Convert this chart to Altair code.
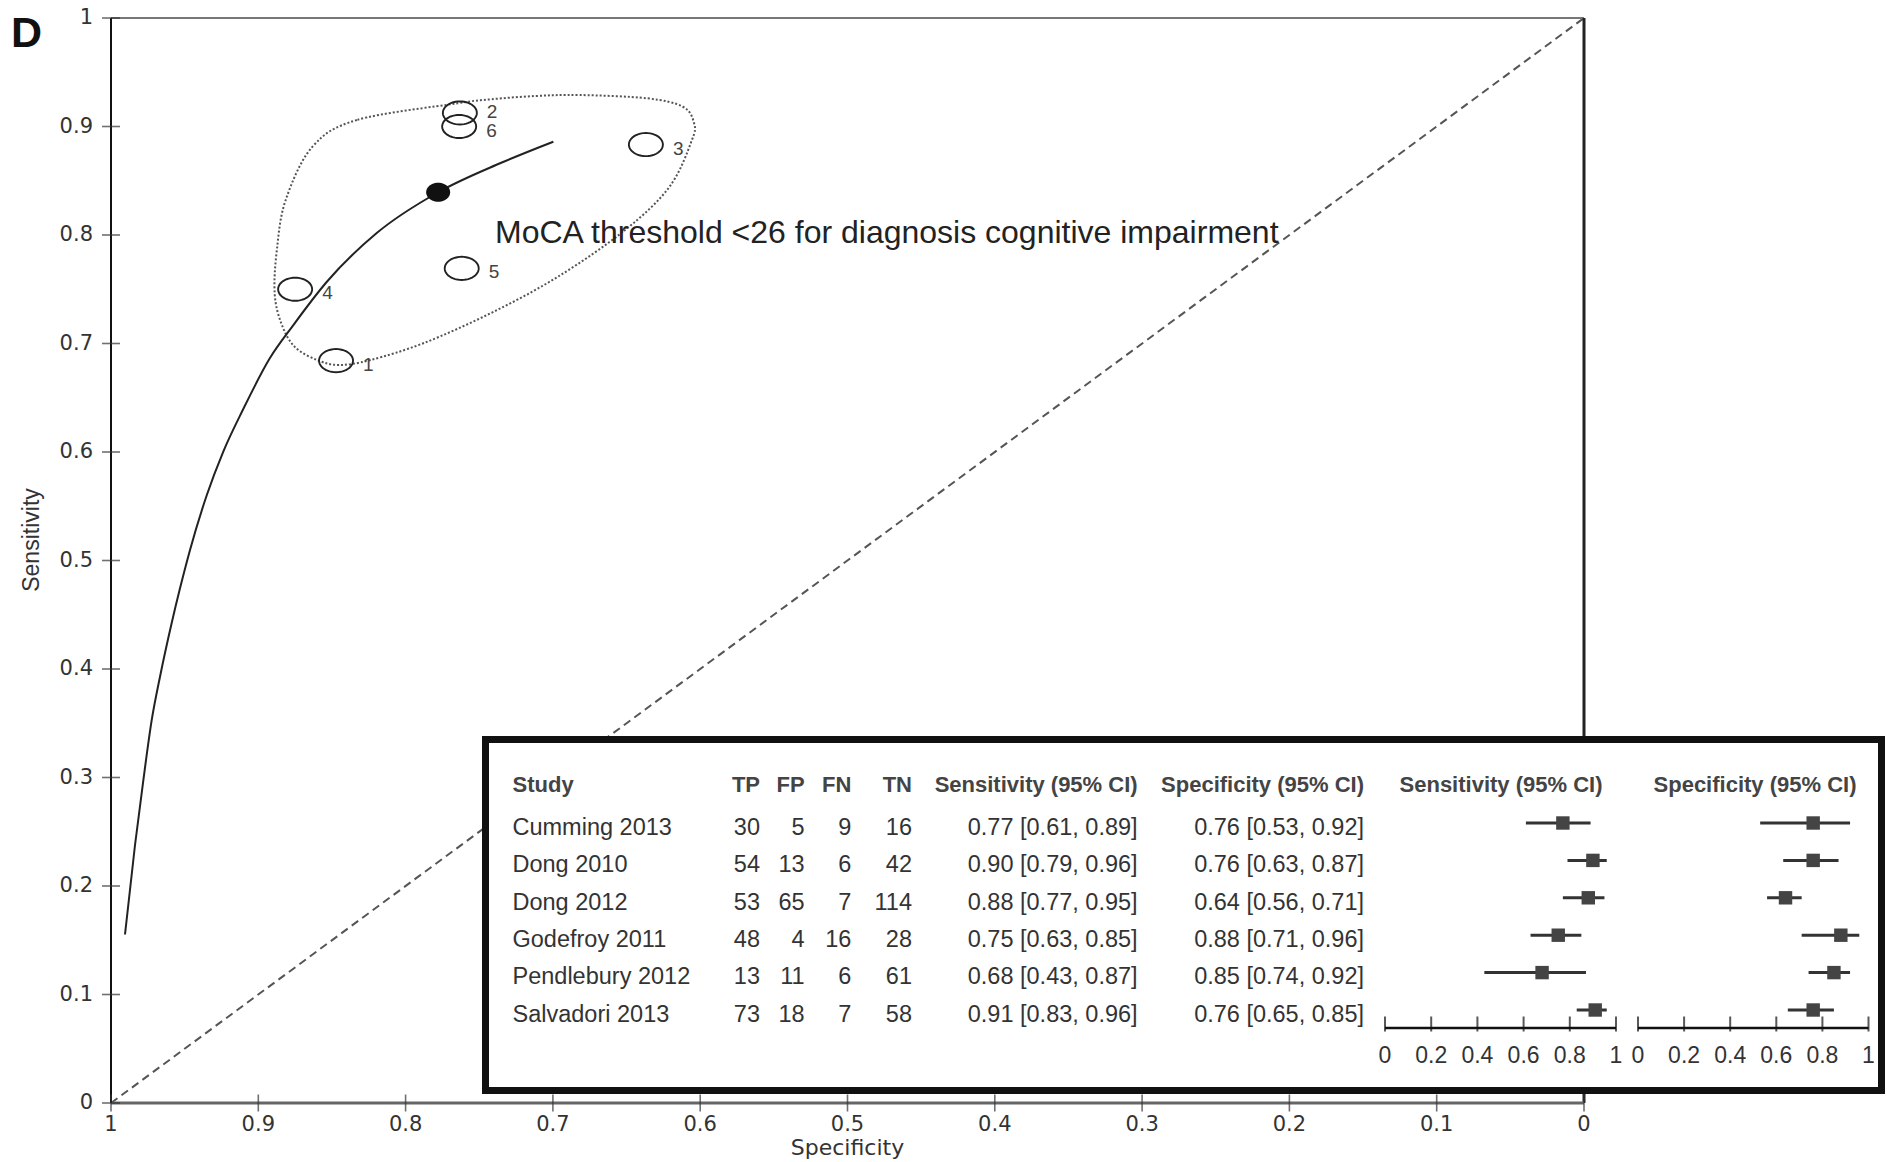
import math
import altair as alt
import pandas as pd

# ---------------- data ----------------
studies = ["Cumming 2013", "Dong 2010", "Dong 2012", "Godefroy 2011", "Pendlebury 2012", "Salvadori 2013"]
tp = [30, 54, 53, 48, 13, 73]
fp = [5, 13, 65, 4, 11, 18]
fn = [9, 6, 7, 16, 6, 7]
tn = [16, 42, 114, 28, 61, 58]
sens_est = [0.77, 0.90, 0.88, 0.75, 0.68, 0.91]
sens_lo = [0.61, 0.79, 0.77, 0.63, 0.43, 0.83]
sens_hi = [0.89, 0.96, 0.95, 0.85, 0.87, 0.96]
spec_est = [0.76, 0.76, 0.64, 0.88, 0.85, 0.76]
spec_lo = [0.53, 0.63, 0.56, 0.71, 0.74, 0.65]
spec_hi = [0.92, 0.87, 0.71, 0.96, 0.92, 0.85]
roc_numbers = ["5", "6", "3", "4", "1", "2"]

# SROC curve
sroc_spec = [0.9905, 0.9837, 0.9781, 0.9724, 0.9667, 0.9588, 0.9532, 0.9464, 0.935, 0.9237, 0.9102,
             0.8921, 0.8762, 0.8536, 0.8196, 0.7779, 0.7359, 0.6997]
sroc_sens = [0.1553, 0.2378, 0.297, 0.3526, 0.3931, 0.4424, 0.4741, 0.5095, 0.5601, 0.6006, 0.6396,
             0.6866, 0.717, 0.7567, 0.8018, 0.8394, 0.8661, 0.886]
# summary point
summary_spec = [0.7779]
summary_sens = [0.8394]
# 95% confidence region outline
region_spec = [0.7647, 0.833, 0.8632, 0.8814, 0.8874, 0.8889, 0.8844, 0.8754, 0.8601, 0.8452, 0.8238, 0.7875,
               0.742, 0.6965, 0.651, 0.6208, 0.6056, 0.6042, 0.6117, 0.6361, 0.6816, 0.7117, 0.742]
region_sens = [0.9214, 0.906, 0.8814, 0.8323, 0.7862, 0.7463, 0.7186, 0.6971, 0.6848, 0.6802, 0.6848, 0.7005,
               0.7281, 0.7616, 0.8046, 0.8445, 0.8876, 0.9032, 0.9182, 0.926, 0.929, 0.9281, 0.9251]
annotation_text = ["MoCA threshold <26 for diagnosis cognitive impairment"]
annotation_spec = [0.7393]
annotation_sens = [0.8018]

axis_ticks = [0, 0.1, 0.2, 0.3, 0.4, 0.5, 0.6, 0.7, 0.8, 0.9, 1]
axis_tick_labels = ["0", "0.1", "0.2", "0.3", "0.4", "0.5", "0.6", "0.7", "0.8", "0.9", "1"]
forest_ticks = [0, 0.2, 0.4, 0.6, 0.8, 1]
forest_tick_labels = ["0", "0.2", "0.4", "0.6", "0.8", "1"]

headers = ["Study", "TP", "FP", "FN", "TN", "Sensitivity (95% CI)", "Specificity (95% CI)",
           "Sensitivity (95% CI)", "Specificity (95% CI)"]

# ---------------- layout / style ----------------
W, H = 1473, 1085
NARROW = "Liberation Sans Narrow, Arial Narrow, Liberation Sans, sans-serif"
SANS = "Liberation Sans, Arial, sans-serif"
WIDE = "DejaVu Sans, Verdana, sans-serif"


def ellipse_path(ry, n=48):
    pts = []
    for k in range(n):
        a = 2 * math.pi * k / n
        pts.append(f"{math.cos(a):.4f},{ry * math.sin(a):.4f}")
    return "M" + " L".join(pts) + " Z"


xs = alt.Scale(domain=[0, 1], reverse=True, nice=False, zero=False)
ys = alt.Scale(domain=[0, 1], nice=False, zero=False)

table_df = pd.DataFrame({
    "row": list(range(1, 7)), "study": studies, "tp": tp, "fp": fp, "fn": fn, "tn": tn,
    "sens": sens_est, "sens_lo": sens_lo, "sens_hi": sens_hi,
    "spec": spec_est, "spec_lo": spec_lo, "spec_hi": spec_hi, "num": roc_numbers,
})
table_df["sens_txt"] = [f"{v:.2f} [{l:.2f}, {h:.2f}]" for v, l, h in zip(sens_est, sens_lo, sens_hi)]
table_df["spec_txt"] = [f"{v:.2f} [{l:.2f}, {h:.2f}]" for v, l, h in zip(spec_est, spec_lo, spec_hi)]


def MX(f):
    return alt.X(f, type="quantitative", scale=xs, axis=None)


def MY(f):
    return alt.Y(f, type="quantitative", scale=ys, axis=None)


# ---------------- main ROC panel ----------------
diag_df = pd.DataFrame({"spec": [1.0, 0.0], "sens": [0.0, 1.0]})
diag = alt.Chart(diag_df).mark_line(color="#555", strokeWidth=2, strokeDash=[8, 5]).encode(
    x=MX("spec"), y=MY("sens"))

region_df = pd.DataFrame({"spec": region_spec, "sens": region_sens, "i": list(range(len(region_spec)))})
region = alt.Chart(region_df).mark_line(interpolate="cardinal-closed", color="#555", strokeWidth=2,
                                        strokeDash=[2, 2]).encode(x=MX("spec"), y=MY("sens"), order="i:Q")

sroc_df = pd.DataFrame({"spec": sroc_spec, "sens": sroc_sens, "i": list(range(len(sroc_spec)))})
sroc = alt.Chart(sroc_df).mark_line(interpolate="monotone", color="#222", strokeWidth=2).encode(
    x=MX("spec"), y=MY("sens"), order="i:Q")

roc_base = alt.Chart(table_df).transform_calculate(
    rs="datum.tp / (datum.tp + datum.fn)", rp="datum.tn / (datum.tn + datum.fp)")
ellipses = roc_base.mark_point(shape=ellipse_path(0.68), size=34 * 34, filled=False, stroke="#222",
                               strokeWidth=1.9, opacity=1).encode(x=MX("rp"), y=MY("rs"))
numbers = roc_base.transform_filter("datum.num != '2'").mark_text(
    align="left", baseline="middle", dx=27, dy=4, font=SANS, fontSize=19, color="#444").encode(
    x=MX("rp"), y=MY("rs"), text="num:N")
number_top = roc_base.transform_filter("datum.num == '2'").mark_text(
    align="left", baseline="middle", dx=27, dy=-1, font=SANS, fontSize=19, color="#444").encode(
    x=MX("rp"), y=MY("rs"), text="num:N")

summary_df = pd.DataFrame({"spec": summary_spec, "sens": summary_sens})
summary = alt.Chart(summary_df).mark_point(shape=ellipse_path(0.8), size=24 * 24, filled=True,
                                           color="#111", opacity=1).encode(x=MX("spec"), y=MY("sens"))

ann_df = pd.DataFrame({"t": annotation_text, "spec": annotation_spec, "sens": annotation_sens})
annotation = alt.Chart(ann_df).mark_text(align="left", baseline="middle", font=SANS, fontSize=32,
                                         color="#222").encode(x=MX("spec"), y=MY("sens"), text="t:N")

frame_df = pd.DataFrame({"s1": [1.0], "s0": [0.0], "top": [1.0], "bottom": [0.0]})
top_line = alt.Chart(frame_df).mark_rule(color="#777", strokeWidth=2).encode(
    x=MX("s1"), x2="s0:Q", y=MY("top"))
right_line = alt.Chart(frame_df).mark_rule(color="#222", strokeWidth=3).encode(
    x=MX("s0"), y=MY("bottom"), y2="top:Q")
bottom_line = alt.Chart(frame_df).mark_rule(color="#666", strokeWidth=3).encode(
    x=MX("s1"), x2="s0:Q", y=MY("bottom"))
left_line = alt.Chart(frame_df).mark_rule(color="#111", strokeWidth=2).encode(
    x=MX("s1"), y=MY("bottom"), y2="top:Q")

xtick_df = pd.DataFrame({"v": axis_ticks, "lab": axis_tick_labels, "base": [0.0] * len(axis_ticks)})
xticks = alt.Chart(xtick_df).mark_tick(orient="vertical", size=17, thickness=1.6, color="#333").encode(
    x=MX("v"), y=MY("base"))
xlabels = alt.Chart(xtick_df).mark_text(align="center", baseline="middle", dy=22, font=WIDE, fontSize=21,
                                        color="#333").encode(x=MX("v"), y=MY("base"), text="lab:N")
ytick_df = pd.DataFrame({"v": axis_ticks, "lab": axis_tick_labels, "base": [1.0] * len(axis_ticks)})
yticks = alt.Chart(ytick_df).mark_tick(orient="horizontal", size=18, thickness=1.6, color="#333").encode(
    y=MY("v"), x=MX("base"))
ylabels = alt.Chart(ytick_df).mark_text(align="right", baseline="middle", dx=-18, font=WIDE, fontSize=21,
                                        color="#333").encode(y=MY("v"), x=MX("base"), text="lab:N")

title_df = pd.DataFrame({"xt": ["Specificity"], "yt": ["Sensitivity"], "d": ["D"]})
x_title = alt.Chart(title_df).mark_text(align="center", baseline="middle", font=WIDE, fontSize=22,
                                        color="#333").encode(x=alt.value(W / 2), y=alt.value(H + 45),
                                                             text="xt:N")
y_title = alt.Chart(title_df).mark_text(align="center", baseline="middle", angle=270, font=SANS,
                                        fontSize=23, color="#333").encode(x=alt.value(-79), y=alt.value(522),
                                                                          text="yt:N")
panel_label = alt.Chart(title_df).mark_text(align="left", baseline="alphabetic", font=SANS,
                                            fontWeight="bold", fontSize=43, color="#111").encode(
    x=alt.value(-100), y=alt.value(29), text="d:N")

main = alt.layer(diag, region, sroc, ellipses, summary, numbers, number_top, annotation, top_line,
                 right_line, bottom_line, left_line, xticks, yticks, xlabels, ylabels, x_title, y_title,
                 panel_label)

# ---------------- inset table ----------------
row_scale = alt.Scale(domain=[1, 6], range=[810, 996.5], nice=False, zero=False)
box_df = pd.DataFrame({"k": [0]})
box = alt.Chart(box_df).mark_rect(fill="white", stroke="#111", strokeWidth=7).encode(
    x=alt.value(374.5), x2=alt.value(1770.5), y=alt.value(721.5), y2=alt.value(1072.5))

col_layout = [("study", "left", 401.5), ("tp", "right", 649), ("fp", "right", 693.6),
              ("fn", "right", 740.4), ("tn", "right", 801), ("sens_txt", "right", 1026.6),
              ("spec_txt", "right", 1253)]
cols = []
for field, align, px in col_layout:
    cols.append(alt.Chart(table_df).mark_text(align=align, baseline="middle", font=NARROW, fontSize=23.5,
                                              color="#333").encode(
        x=alt.value(px), y=alt.Y("row:Q", scale=row_scale, axis=None), text=f"{field}:N"))

header_layout = [("left", 401.5), ("right", 649), ("right", 693.6), ("right", 740.4), ("right", 801),
                 ("right", 1026.6), ("right", 1253), ("center", 1390), ("center", 1644)]
head_layers = []
for txt, (align, px) in zip(headers, header_layout):
    hdf = pd.DataFrame({"t": [txt]})
    head_layers.append(alt.Chart(hdf).mark_text(align=align, baseline="middle", font=NARROW, fontSize=22,
                                                fontWeight="bold", color="#444").encode(
        x=alt.value(px), y=alt.value(767), text="t:N"))

table = alt.layer(box, *cols, *head_layers)

# ---------------- forest plots ----------------
forest_row = alt.Scale(domain=[1, 6], range=[805, 992], nice=False, zero=False)
ftick_df = pd.DataFrame({"v": forest_ticks, "lab": forest_tick_labels})
faxis_df = pd.DataFrame({"a": [0.0], "b": [1.0]})


def forest(est, lo, hi, px_range):
    fs = alt.Scale(domain=[0, 1], range=px_range, nice=False, zero=False)
    ci = alt.Chart(table_df).mark_rule(color="#333", strokeWidth=3).encode(
        x=alt.X(f"{lo}:Q", scale=fs, axis=None), x2=f"{hi}:Q",
        y=alt.Y("row:Q", scale=forest_row, axis=None))
    sq = alt.Chart(table_df).mark_square(size=180, color="#444", opacity=1).encode(
        x=alt.X(f"{est}:Q", scale=fs, axis=None), y=alt.Y("row:Q", scale=forest_row, axis=None))
    line = alt.Chart(faxis_df).mark_rule(color="#111", strokeWidth=2.5).encode(
        x=alt.X("a:Q", scale=fs, axis=None), x2="b:Q", y=alt.value(1010))
    tk = alt.Chart(ftick_df).mark_tick(orient="vertical", size=15, thickness=2, color="#111").encode(
        x=alt.X("v:Q", scale=fs, axis=None), y=alt.value(1006))
    lb = alt.Chart(ftick_df).mark_text(align="center", baseline="middle", font=NARROW, fontSize=23,
                                       color="#333").encode(
        x=alt.X("v:Q", scale=fs, axis=None), y=alt.value(1038), text="lab:N")
    return alt.layer(ci, sq, line, tk, lb)


sens_forest = forest("sens", "sens_lo", "sens_hi", [1274, 1505])
spec_forest = forest("spec", "spec_lo", "spec_hi", [1527, 1757.5])

chart = alt.layer(main, table, sens_forest, spec_forest).resolve_scale(
    x="independent", y="independent"
).properties(
    width=W, height=H,
    padding={"left": 111, "top": 18, "right": 302, "bottom": 57},
    autosize=alt.AutoSizeParams(type="none"),
    background="white",
).configure_view(stroke="transparent")

chart.save("out.html", embed_options={"renderer": "svg", "actions": False})
